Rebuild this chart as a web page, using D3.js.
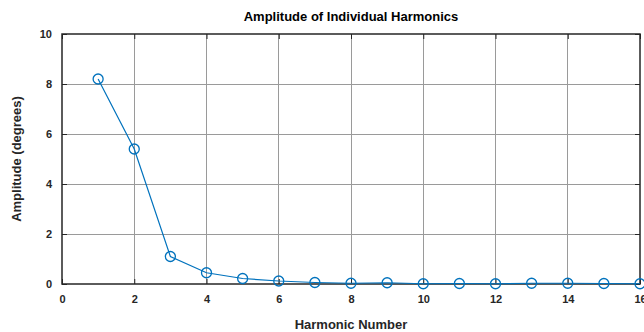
<!DOCTYPE html>
<html>
<head>
<meta charset="utf-8">
<script src="https://cdn.jsdelivr.net/npm/d3@7"></script>
<style>
  html, body { margin: 0; padding: 0; background: #fff; }
  svg { display: block; font-family: "Liberation Sans", Arial, sans-serif; }
</style>
</head>
<body>
<svg id="chart" width="644" height="332"></svg>
<script>
// Harmonic amplitudes (degrees)
const harmonics = [1, 2, 3, 4, 5, 6, 7, 8, 9, 10, 11, 12, 13, 14, 15, 16];
const amplitudes = [8.2, 5.4, 1.1, 0.45, 0.22, 0.12, 0.06, 0.03, 0.05, 0.01, 0.02, 0.01, 0.03, 0.03, 0.02, 0.01];
const xTicks = [0, 2, 4, 6, 8, 10, 12, 14, 16];
const yTicks = [0, 2, 4, 6, 8, 10];

const svg = d3.select("#chart");
const margin = { left: 62, right: 4, top: 34, bottom: 48 };
const W = 644, H = 332;
const x = d3.scaleLinear().domain([0, 16]).range([margin.left, W - margin.right]);
const y = d3.scaleLinear().domain([0, 10]).range([H - margin.bottom, margin.top]);

const lineColor = "#0072BD";

// Grid
const grid = svg.append("g");
grid.selectAll(".gx").data(xTicks.slice(1, -1)).join("line")
  .attr("x1", d => x(d)).attr("x2", d => x(d))
  .attr("y1", y(0)).attr("y2", y(10))
  .attr("stroke", "#9a9a9a").attr("stroke-width", 1).attr("shape-rendering", "crispEdges");
grid.selectAll(".gy").data(yTicks.slice(1, -1)).join("line")
  .attr("x1", x(0)).attr("x2", x(16))
  .attr("y1", d => y(d)).attr("y2", d => y(d))
  .attr("stroke", "#9a9a9a").attr("stroke-width", 1).attr("shape-rendering", "crispEdges");

// Axes with inward ticks on all sides
const tickLen = 5;
const axisBottom = d3.axisBottom(x).tickValues(xTicks).tickSize(-tickLen).tickPadding(12).tickFormat(d3.format("d"));
const axisLeft = d3.axisLeft(y).tickValues(yTicks).tickSize(-tickLen).tickPadding(10).tickFormat(d3.format("d"));
const axisTop = d3.axisTop(x).tickValues(xTicks).tickSize(-tickLen).tickFormat("");
const axisRight = d3.axisRight(y).tickValues(yTicks).tickSize(-tickLen).tickFormat("");

function styleAxis(g) {
  g.select(".domain").remove();
  g.selectAll(".tick line").attr("stroke", "#262626");
  g.selectAll("text").attr("font-size", 11).attr("font-weight", "bold").attr("fill", "#262626")
    .attr("font-family", "Liberation Sans, Arial, sans-serif");
}

svg.append("g").attr("transform", `translate(0,${y(0)})`).call(axisBottom).call(styleAxis)
  .selectAll("text").attr("dy", "0.6em");
svg.append("g").attr("transform", `translate(${x(0)},0)`).call(axisLeft).call(styleAxis);
svg.append("g").attr("transform", `translate(0,${y(10)})`).call(axisTop).call(styleAxis);
svg.append("g").attr("transform", `translate(${x(16)},0)`).call(axisRight).call(styleAxis);

// Box
svg.append("rect")
  .attr("x", x(0)).attr("y", y(10))
  .attr("width", x(16) - x(0)).attr("height", y(0) - y(10))
  .attr("fill", "none").attr("stroke", "#262626").attr("stroke-width", 1.5);

// Series line and markers
const line = d3.line().x((d, i) => x(harmonics[i])).y(d => y(d));
svg.append("path").datum(amplitudes)
  .attr("d", line).attr("fill", "none")
  .attr("stroke", lineColor).attr("stroke-width", 1.2);
svg.selectAll(".pt").data(amplitudes).join("circle")
  .attr("cx", (d, i) => x(harmonics[i])).attr("cy", d => y(d)).attr("r", 5)
  .attr("fill", "none").attr("stroke", lineColor).attr("stroke-width", 1.3);

// Title and labels
svg.append("text").attr("x", (x(0) + x(16)) / 2).attr("y", 21)
  .attr("text-anchor", "middle").attr("font-size", 13).attr("font-weight", "bold")
  .attr("fill", "#000").text("Amplitude of Individual Harmonics");
svg.append("text").attr("x", (x(0) + x(16)) / 2).attr("y", 329)
  .attr("text-anchor", "middle").attr("font-size", 13).attr("font-weight", "bold")
  .attr("fill", "#262626").text("Harmonic Number");
svg.append("text")
  .attr("transform", `translate(21,${(y(0) + y(10)) / 2}) rotate(-90)`)
  .attr("text-anchor", "middle").attr("font-size", 13).attr("font-weight", "bold")
  .attr("fill", "#262626").text("Amplitude (degrees)");
</script>
</body>
</html>
